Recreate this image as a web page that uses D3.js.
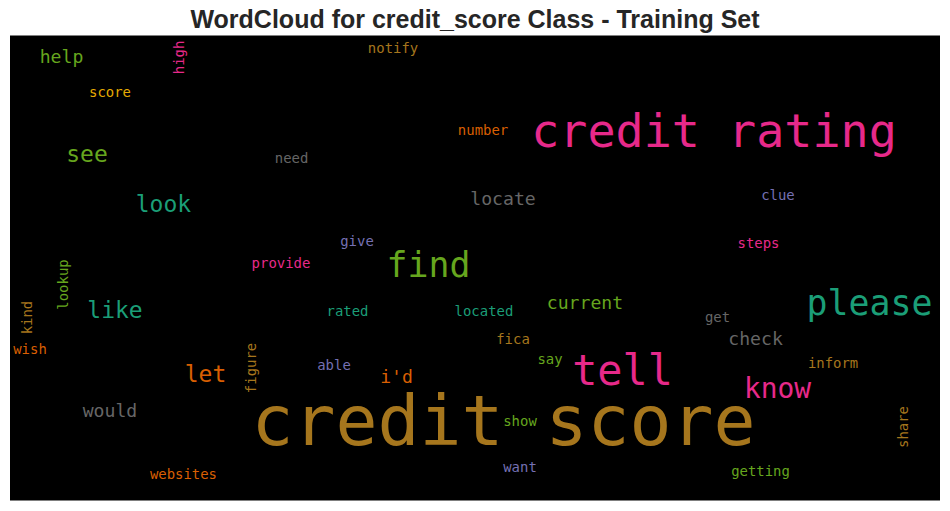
<!DOCTYPE html>
<html>
<head>
<meta charset="utf-8">
<script src="https://cdn.jsdelivr.net/npm/d3@7"></script>
<style>
  html, body { margin: 0; padding: 0; background: #fff; }
  svg { display: block; }
</style>
</head>
<body>
<div id="chart"></div>
<script>
// words of the cloud
var words = ["credit score", "credit rating", "tell", "please", "find", "know",
  "look", "like", "see", "let", "locate", "would", "current", "check", "i'd", "help",
  "notify", "score", "need", "number", "give", "clue", "steps", "provide", "rated",
  "located", "fica", "say", "able", "show", "get", "inform", "want", "getting",
  "websites", "wish", "high", "lookup", "kind", "figure", "share"]

// relative frequency (1 = most frequent word)
var freqs = [1, 0.67, 0.6, 0.5, 0.5, 0.4,
  0.33, 0.33, 0.33, 0.33, 0.26, 0.26, 0.26, 0.26, 0.26, 0.26,
  0.2, 0.2, 0.2, 0.2, 0.2, 0.2, 0.2, 0.2, 0.2,
  0.2, 0.2, 0.2, 0.2, 0.2, 0.2, 0.2, 0.2, 0.2,
  0.2, 0.2, 0.2, 0.2, 0.2, 0.2, 0.2]

// layout from the cloud, in its own 800 x 400 canvas
var cloudX = [424.5, 605.6, 526.9, 739.4, 360, 660.2,
  132, 90.3, 66.2, 168.2, 424.1, 86, 494.6, 641.3, 332.5, 44.3,
  329.5, 86, 242.2, 406.9, 298.5, 660.6, 643.9, 233.1, 290.3,
  407.7, 432.7, 464.5, 278.7, 438.7, 608.6, 708, 438.7, 645.6,
  149.2, 17.2, 150.1, 49.5, 18.5, 211.6, 772.5]
var cloudY = [352.3, 95.9, 300.6, 240.4, 207.7, 311.8,
  151.8, 243, 108.8, 298.1, 145.8, 328.2, 235.3, 266.2, 298.9, 23.7,
  15.1, 52.9, 109.7, 85.6, 181.5, 141.5, 182.8, 199.6, 241.3,
  241.3, 265.4, 282.6, 287.7, 335.9, 246.5, 285.6, 375.1, 378.9,
  381.5, 274, 18.9, 214.2, 242.6, 286, 336.8]
// 1 = turned upright
var upright = [0, 0, 0, 0, 0, 0, 0, 0, 0, 0, 0, 0, 0, 0, 0, 0,
  0, 0, 0, 0, 0, 0, 0, 0, 0, 0, 0, 0, 0, 0, 0, 0, 0, 0,
  0, 0, 1, 1, 1, 1, 1]
// index into the Dark2 colour map
var colorIdx = [6, 3, 3, 0, 4, 3,
  0, 0, 4, 1, 7, 7, 4, 7, 1, 4,
  6, 5, 7, 1, 2, 2, 3, 3, 0,
  0, 6, 4, 2, 4, 7, 6, 2, 4,
  1, 1, 3, 4, 6, 6, 6]

var width = 950, height = 511
var boxLeft = 10, boxRight = 940, boxTop = 35.5, boxBottom = 500.5

var svg = d3.select("#chart").append("svg")
  .attr("width", width)
  .attr("height", height)

var x = d3.scaleLinear().domain([0, 800]).range([boxLeft, boxRight])
var y = d3.scaleLinear().domain([0, 400]).range([boxTop, boxBottom])
var size = d3.scaleLinear().domain([0, 1]).range([0, x(60) - x(0)])
var color = d3.scaleOrdinal().domain(d3.range(8)).range(d3.schemeDark2)

svg.append("text")
  .attr("x", width / 2)
  .attr("y", 28)
  .attr("text-anchor", "middle")
  .style("font-family", "'Liberation Sans', Arial, sans-serif")
  .style("font-weight", "bold")
  .style("font-size", "25px")
  .style("fill", "#262626")
  .text("WordCloud for credit_score Class - Training Set")

svg.append("rect")
  .attr("x", x(0))
  .attr("y", y(0))
  .attr("width", x(800) - x(0))
  .attr("height", y(400) - y(0))
  .attr("fill", "#000")

var data = words.map(function (w, i) {
  return { text: w, f: freqs[i], cx: cloudX[i], cy: cloudY[i], up: upright[i], c: colorIdx[i] }
})

svg.append("g").selectAll("text")
  .data(data)
  .enter().append("text")
  .attr("text-anchor", "middle")
  .attr("transform", function (d) {
    var t = "translate(" + x(d.cx) + "," + y(d.cy) + ")"
    return d.up ? t + " rotate(-90)" : t
  })
  .style("font-family", "'DejaVu Sans Mono', monospace")
  .style("font-size", function (d) { return size(d.f) + "px" })
  .style("fill", function (d) { return color(d.c) })
  .text(function (d) { return d.text })
</script>
</body>
</html>
